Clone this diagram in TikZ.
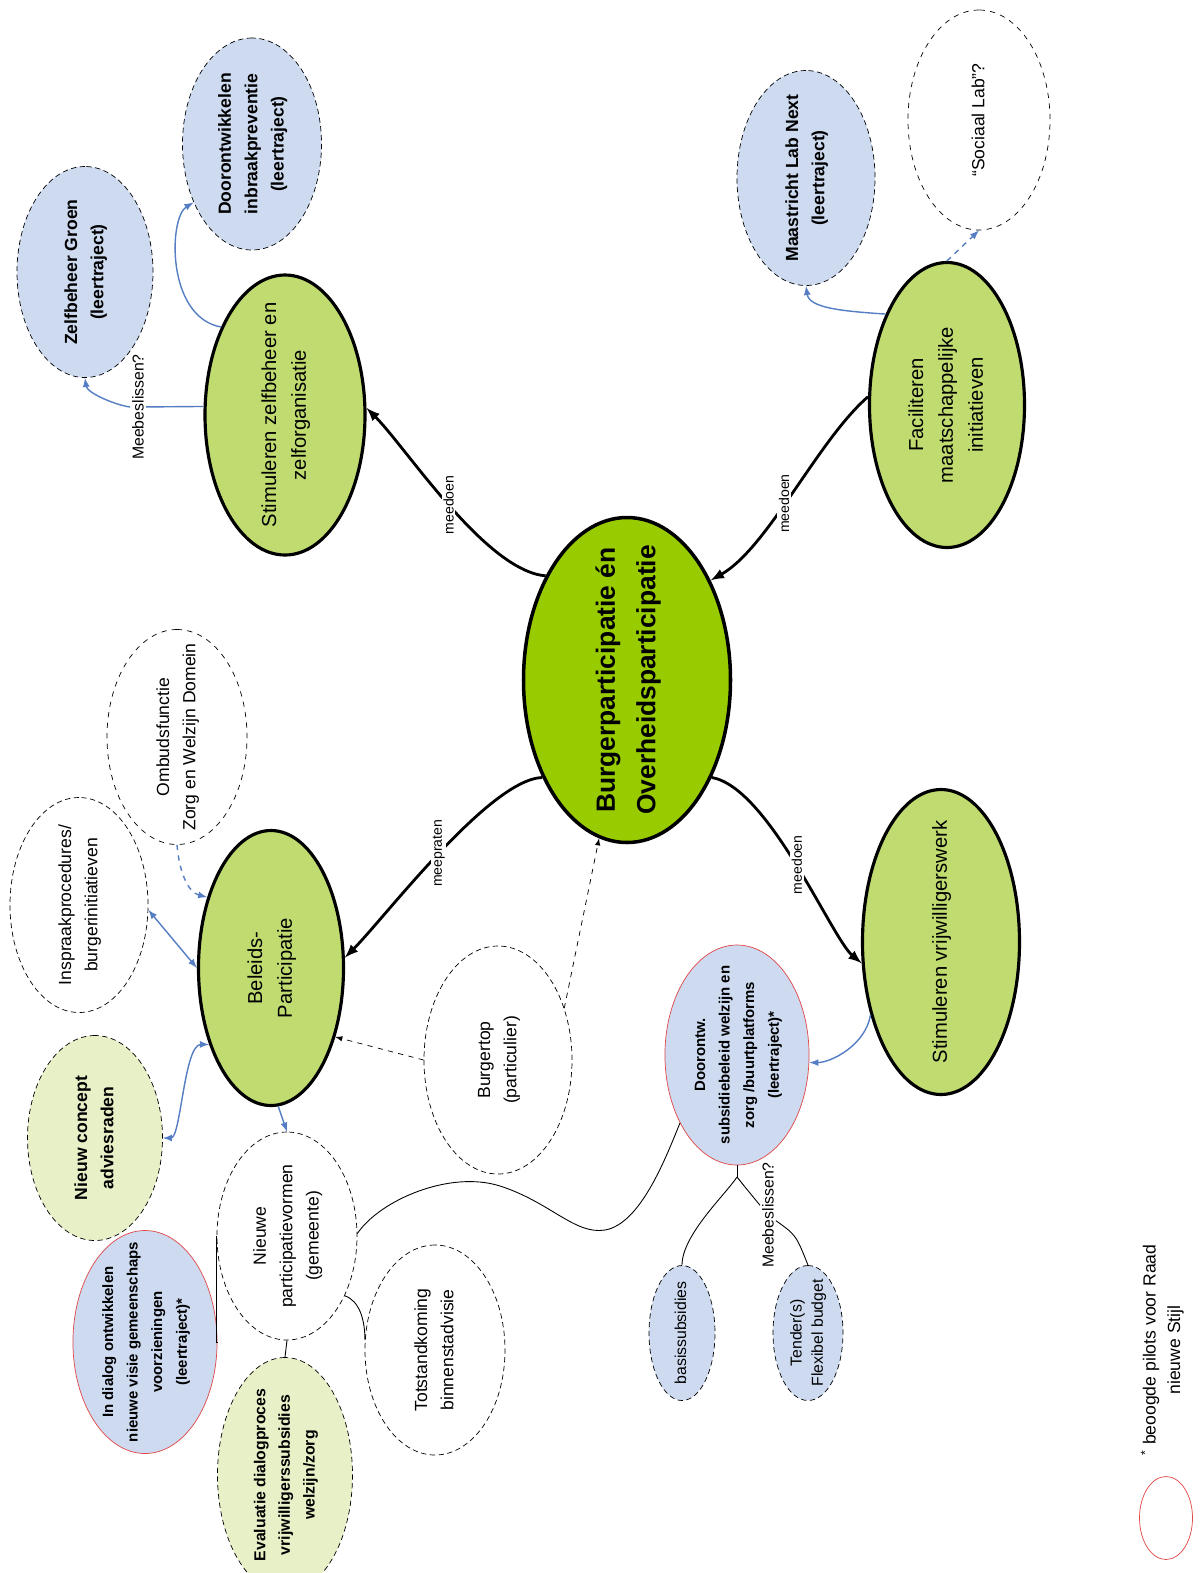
\documentclass[tikz,border=0pt]{standalone}
\usepackage{fontspec}
\setmainfont{Liberation Sans}
\usetikzlibrary{shapes.geometric}

\definecolor{hubgreen}{RGB}{153,204,0}
\definecolor{aimgreen}{RGB}{192,220,112}
\definecolor{palegreen}{RGB}{232,240,200}
\definecolor{pilotblue}{RGB}{205,218,240}
\definecolor{pilotred}{RGB}{225,70,70}
\definecolor{linkblue}{RGB}{85,125,195}

\newcommand{\ml}[1]{\makebox[0pt]{\begin{tabular}{@{}c@{}}#1\end{tabular}}}

\tikzset{
  ell/.style={ellipse, rotate=90, inner sep=1pt},
  dims/.style 2 args={minimum width=#1*0.2mm, minimum height=#2*0.2mm},
  hub/.style={ell, draw, line width=2pt, fill=hubgreen, font=\bfseries\fontsize{15}{23}\selectfont},
  aim/.style={ell, draw, line width=1.8pt, fill=aimgreen, font=\fontsize{11.5}{17}\selectfont},
  pilot/.style={ell, draw, thin, densely dashed, fill=pilotblue, font=\bfseries\fontsize{10}{15}\selectfont},
  redpilot/.style={ell, draw=pilotred, fill=pilotblue, font=\bfseries\fontsize{8.5}{14}\selectfont},
  pale/.style={ell, draw, thin, densely dashed, fill=palegreen, font=\bfseries\fontsize{10}{15}\selectfont},
  open/.style={ell, draw, thin, densely dashed, fill=white, font=\fontsize{10}{15}\selectfont},
  maybe/.style={ell, draw, dashed, fill=white, font=\fontsize{10}{15}\selectfont},
  tag/.style={rotate=90, fill=white, inner sep=1pt, font=\fontsize{8}{9}\selectfont},
  note/.style={tag, font=\fontsize{9}{10}\selectfont},
  push/.style={->, line width=1.6pt},
  link/.style={->, linkblue, line width=0.8pt},
  tie/.style={line width=0.5pt},
}

\begin{document}
\begin{tikzpicture}[>=latex, x=0.2mm, y=-0.2mm]
  \useasboundingbox (0,0) rectangle (1202,1573);

  % main themes
  \node[hub, dims={325}{207}] (cen) at (627,680) {\ml{Burgerparticipatie én\\Overheidsparticipatie}};
  \node[aim, dims={280}{160}] (stz) at (285,415) {\ml{Stimuleren zelfbeheer en\\zelforganisatie}};
  \node[aim, dims={285}{155}] (fac) at (947,405) {\ml{Faciliteren\\maatschappelijke\\initiatieven}};
  \node[aim, dims={275}{145}] (beleid) at (271,968) {\ml{Beleids-\\Participatie}};
  \node[aim, dims={305}{157}] (stv) at (941,942) {\ml{Stimuleren vrijwilligerswerk}};

  % projects
  \node[pilot, dims={211}{136}] (zg) at (85,272) {\ml{Zelfbeheer Groen\\(leertraject)}};
  \node[pilot, dims={212}{139}] (doi) at (252,144) {\ml{Doorontwikkelen\\inbraakpreventie\\(leertraject)}};
  \node[pilot, dims={215}{138}] (mln) at (806,178) {\ml{Maastricht Lab Next\\(leertraject)}};
  \node[maybe, dims={220}{142}] (sl) at (979,120) {\ml{``Sociaal Lab''?}};
  \node[open, dims={215}{138}] (insp) at (79,905) {\ml{Inspraakprocedures/\\burgerinitiatieven}};
  \node[maybe, dims={215}{140}] (omb) at (177,737) {\ml{Ombudsfunctie\\Zorg en Welzijn Domein}};
  \node[pale, dims={205}{135}] (nca) at (95,1138) {\ml{Nieuw concept\\adviesraden}};
  \node[redpilot, dims={223}{130}] (idg) at (145,1342) {\ml{In dialog ontwikkelen\\nieuwe visie gemeenschaps\\voorzieningen\\(leertraject)*}};
  \node[pale, dims={235}{135}, font=\bfseries\fontsize{9}{14}\selectfont] (evd) at (285,1475) {\ml{Evaluatie dialogproces\\vrijwilligerssubsidies\\welzijn/zorg}};
  \node[open, dims={208}{140}] (npv) at (287,1236) {\ml{Nieuwe\\participatievormen\\(gemeente)}};
  \node[open, dims={210}{140}] (tst) at (435,1350) {\ml{Totstandkoming\\binnenstadvisie}};
  \node[open, dims={228}{148}] (bgt) at (498,1060) {\ml{Burgertop\\(particulier)}};
  \node[redpilot, dims={220}{140}] (dsb) at (737,1055) {\ml{Doorontw.\\subsidiebeleid welzijn en\\zorg /buurtplatforms\\(leertraject)*}};
  \node[pilot, dims={135}{66}, font=\fontsize{9}{12}\selectfont] (bas) at (682,1333) {\ml{basissubsidies}};
  \node[pilot, dims={135}{70}, font=\fontsize{9}{12}\selectfont] (ten) at (808,1333) {\ml{Tender(s)\\Flexibel budget}};

  % legend
  \node[ell, draw=pilotred, dims={83}{53}] (lg) at (1166,1518) {};
  \node[rotate=90, font=\fontsize{10}{14}\selectfont] (lgt) at (1163,1350) {\ml{\textsuperscript{*} beoogde pilots voor Raad\\nieuwe Stijl}};

  % thick arrows around the centre
  \draw[push] (cen.38) .. controls +(-60,-5) and +(40,40) .. node[tag, pos=0.5] {meedoen} (stz.275);
  \draw[push] (fac.84) .. controls +(-50,43) and +(57,-32) .. node[tag, pos=0.55] {meedoen} (cen.320);
  \draw[push] (cen.139) .. controls +(-53,2) and +(40,-40) .. node[tag, pos=0.5] {meepraten} (beleid.278);
  \draw[push] (cen.221) .. controls +(57,10) and +(-30,-25) .. node[tag, pos=0.5] {meedoen} (stv.105);

  % Burgertop
  \draw[->, dashed] (bgt.90) -- (beleid.223);
  \draw[->, dashed] (bgt.308) -- (cen.170);

  % zelfbeheer
  \node[note] (mb1) at (138,407) {Meebeslissen?};
  \draw[linkblue, line width=0.8pt] (stz.84) -- (mb1);
  \draw[link] (mb1.north) .. controls +(-15,-2) and +(2,15) .. (zg.180);
  \draw[link] (stz.36) .. controls +(-55,-10) and +(-25,15) .. (doi.135);

  % faciliteren
  \draw[link] (fac.34) .. controls +(-45,-3) and +(3,22) .. (mln.180);
  \draw[link, dashed] (fac.0) -- (sl.180);

  % beleidsparticipatie
  \draw[link, <->] (insp.266) -- (beleid.90);
  \draw[link, dashed] (omb.180) .. controls +(2,25) and +(-20,-5) .. (beleid.42);
  \draw[link, <->] (beleid.141) .. controls +(-25,0) and +(18,0) .. (nca.270);
  \draw[link] (beleid.183) -- (npv.0);

  % nieuwe participatievormen
  \draw[tie] (npv.272) .. controls (380,1200) and (450,1170) .. (500,1186)
    .. controls (550,1202) and (575,1235) .. (605,1230)
    .. controls (640,1224) and (665,1160) .. (dsb.140);
  \draw[tie] (npv.224) .. controls +(15,5) and +(0,-20) .. (tst.82);
  \draw[tie] (npv.180) -- (evd.0);
  \draw[tie] (npv.90) |- (idg.270);

  % vrijwilligerswerk
  \draw[link] (stv.136) .. controls +(-5,30) and +(22,0) .. (dsb.264);
  \coordinate (fork) at (737,1177);
  \node[note] (mb2) at (768,1215) {Meebeslissen?};
  \draw[tie] (dsb.180) -- (fork);
  \draw[tie] (fork) .. controls +(-12,18) and +(0,-30) .. (bas.0);
  \draw[tie] (fork) .. controls +(8,10) .. (mb2);
  \draw[tie] (mb2) .. controls +(28,20) .. (ten.0);
\end{tikzpicture}
\end{document}
